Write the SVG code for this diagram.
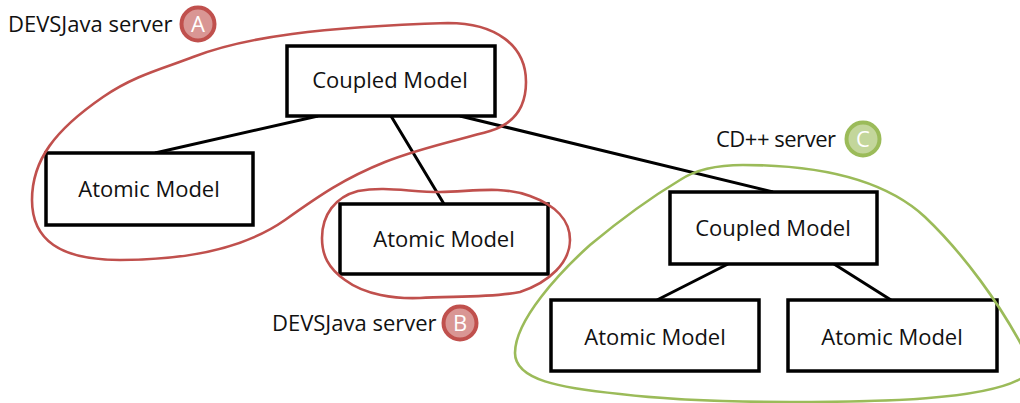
<svg xmlns="http://www.w3.org/2000/svg" width="1020" height="403" viewBox="0 0 1020 403">
<style>
text{font-family:"Open Sans","Noto Sans","Liberation Sans",sans-serif;font-size:22px;fill:#111}
.c{text-anchor:middle}
.box{fill:#fff;stroke:#000;stroke-width:3.5}
.link{stroke:#000;stroke-width:3;fill:none}
.blob{fill:none;stroke-width:2.6}
.r{stroke:#c0504d}
.g{stroke:#9bbb59}
.badge{stroke-width:4}
.bl{fill:#fff;font-size:22px;text-anchor:middle}
</style>
<rect width="1020" height="403" fill="#fff"/>
<g id="connectors">
<path class="link" d="M318 116L155 153M391 116L444 204M460 116L773 192M728 264L657 300M834 264L891 300"/>
</g>
<g id="node-coupled-top"><rect class="box" x="287" y="46" width="208" height="70"/><text class="c" x="390" y="88">Coupled Model</text></g>
<g id="node-atomic-left"><rect class="box" x="46" y="153" width="207" height="72"/><text class="c" x="149" y="197">Atomic Model</text></g>
<g id="node-atomic-mid"><rect class="box" x="340" y="204" width="208" height="70"/><text class="c" x="444" y="247">Atomic Model</text></g>
<g id="node-coupled-c"><rect class="box" x="670" y="192" width="207" height="72"/><text class="c" x="773" y="236">Coupled Model</text></g>
<g id="node-atomic-c1"><rect class="box" x="551" y="300" width="208" height="71"/><text class="c" x="655" y="345">Atomic Model</text></g>
<g id="node-atomic-c2"><rect class="box" x="788" y="300" width="209" height="71"/><text class="c" x="892" y="345">Atomic Model</text></g>
<g id="region-a"><path class="blob r" d="M448 23C495 23 526 45 526 82C526 112 510 125 490 131C455 141 420 148 385 162C345 178 320 195 285 220C245 248 190 260 120 260C60 260 32 240 32 200C32 160 55 130 103 97C135 75 165 68 193 57C245 37 320 27 448 23Z"/>
<circle class="badge r" cx="198" cy="24" r="16.5" fill="#d99694"/><text class="bl" x="198" y="32">A</text><text x="8" y="32">DEVSJava server</text></g>
<g id="region-b"><path class="blob r" d="M440 192C470 192 500 185 530 196C555 205 570 220 570 240C570 262 550 282 520 292C490 298 450 296 420 298C395 299 365 295 345 280C328 268 322 255 322 238C322 215 335 197 358 191C385 186 410 192 440 192Z"/>
<circle class="badge r" cx="460" cy="323" r="16.5" fill="#d99694"/><text class="bl" x="460" y="331">B</text><text x="272" y="331">DEVSJava server</text></g>
<g id="region-c"><path class="blob g" d="M1022 346C1000 305 965 255 925 217C885 180 820 165 743 165C715 165 695 170 680 180C650 198 620 220 590 245C560 272 515 320 515 353C515 380 560 388 620 394C670 400 730 402 790 402C880 402 985 400 1022 378"/>
<circle class="badge g" cx="863" cy="139" r="16.5" fill="#c3d69b"/><text class="bl" x="863" y="147">C</text><text x="716" y="147" textLength="120">CD++ server</text></g>
</svg>
